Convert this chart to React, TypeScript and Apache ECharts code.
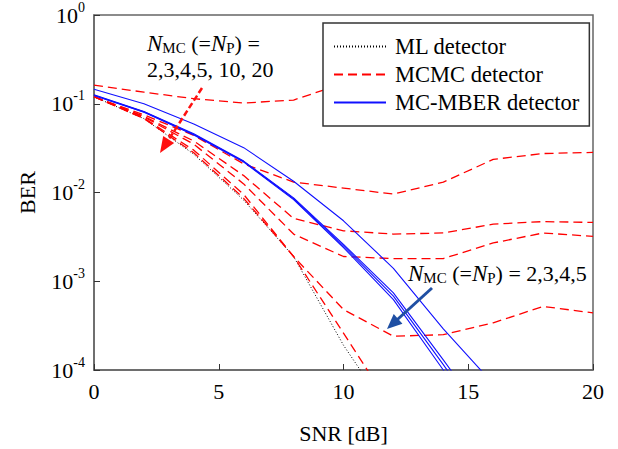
import React, { useEffect, useRef } from "react";
import * as echarts from "echarts";

const snr = [0, 2, 4, 6, 8, 10, 12, 14, 16, 18, 20];

const mlBer = [0.12, 0.068, 0.027, 0.0082, 0.0019, 0.00019, 0.000028];

const mcmcN2 = [0.162, 0.135, 0.114, 0.102, 0.11, 0.17, 0.2, 0.21, 0.2, 0.21, 0.2];
const mcmcN3 = [0.12, 0.075, 0.044, 0.021, 0.0131, 0.0112, 0.0096, 0.0131, 0.0236, 0.0275, 0.0283];
const mcmcN4 = [0.12, 0.072, 0.038, 0.0155, 0.0051, 0.0037, 0.0034, 0.0035, 0.0044, 0.0047, 0.0046];
const mcmcN5 = [0.12, 0.071, 0.035, 0.0125, 0.0034, 0.0019, 0.0018, 0.0018, 0.0027, 0.0035, 0.0032];
const mcmcN10 = [0.12, 0.069, 0.03, 0.0095, 0.0019, 0.00048, 0.00024, 0.00025, 0.00034, 0.00052, 0.00044];
const mcmcN20 = [0.12, 0.068, 0.028, 0.0086, 0.0019, 0.00026, 0.000035];

const mberN2 = [0.146, 0.1, 0.059, 0.032, 0.0134, 0.0048, 0.0014, 0.00029, 0.00007];
const mberN3 = [0.126, 0.082, 0.046, 0.0226, 0.0087, 0.0026, 0.00074, 0.00013, 0.000022];
const mberN4 = [0.125, 0.081, 0.045, 0.0223, 0.0085, 0.0025, 0.00068, 0.000115, 0.000018];
const mberN5 = [0.124, 0.08, 0.0445, 0.022, 0.0083, 0.0024, 0.00062, 0.0001, 0.000015];

const FONT = "Liberation Serif";

function pairs(vals: number[]) {
  return vals.map((v, i) => [snr[i], v]);
}

function arrow(x1: number, y1: number, x2: number, y2: number, color: string, width: number, dashed: boolean, headLen: number, headHalf: number) {
  const dx = x2 - x1;
  const dy = y2 - y1;
  const len = Math.sqrt(dx * dx + dy * dy);
  const ux = dx / len;
  const uy = dy / len;
  const bx = x2 - ux * headLen;
  const by = y2 - uy * headLen;
  const nx = -uy;
  const ny = ux;
  return [
    {
      type: "line",
      z: 100,
      shape: { x1, y1, x2: bx + ux * 2, y2: by + uy * 2 },
      style: { stroke: color, lineWidth: width, lineDash: dashed ? [6, 3] : null },
    },
    {
      type: "polygon",
      z: 100,
      shape: {
        points: [
          [x2, y2],
          [bx + nx * headHalf, by + ny * headHalf],
          [bx - nx * headHalf, by - ny * headHalf],
        ],
      },
      style: { fill: color },
    },
  ];
}

const annoRich = {
  i: { fontFamily: FONT, fontSize: 23, fontStyle: "italic", color: "#000", lineHeight: 24 },
  s: { fontFamily: FONT, fontSize: 15, color: "#000", verticalAlign: "bottom", lineHeight: 15 },
  n: { fontFamily: FONT, fontSize: 22, color: "#000", lineHeight: 24 },
};

export default function App() {
  const ref = useRef<HTMLDivElement>(null);
  useEffect(() => {
    if (!ref.current) return;
    const chart = echarts.init(ref.current, null, { renderer: "svg" });
    const red = "#ff0000";
    const blue = "#1010ff";
    const mcmcStyle = { color: red, width: 1.3, type: [9, 5] as any };
    const mberStyle = { color: blue, width: 1.1 };
    const mk = (name: string, vals: number[], ls: any, color: string) => ({
      name,
      type: "line",
      data: pairs(vals),
      showSymbol: false,
      symbol: "none",
      lineStyle: ls,
      itemStyle: { color },
      clip: true,
      z: 2,
    });
    const series: any[] = [
      mk("ML detector", mlBer, { color: "#000", width: 1, type: [1, 2] }, "#000"),
      mk("MCMC detector", mcmcN2, mcmcStyle, red),
      mk("MCMC detector", mcmcN3, mcmcStyle, red),
      mk("MCMC detector", mcmcN4, mcmcStyle, red),
      mk("MCMC detector", mcmcN5, mcmcStyle, red),
      mk("MCMC detector", mcmcN10, mcmcStyle, red),
      mk("MCMC detector", mcmcN20, mcmcStyle, red),
      mk("MC-MBER detector", mberN2, mberStyle, blue),
      mk("MC-MBER detector", mberN3, mberStyle, blue),
      mk("MC-MBER detector", mberN4, mberStyle, blue),
      mk("MC-MBER detector", mberN5, mberStyle, blue),
    ];
    const option: any = {
      animation: false,
      backgroundColor: "#fff",
      textStyle: { fontFamily: FONT },
      grid: {
        left: 94,
        right: 25,
        top: 12,
        bottom: 78,
        containLabel: false,
        show: true,
        borderColor: "#666",
        borderWidth: 1.5,
      },
      xAxis: {
        type: "value",
        min: 0,
        max: 20,
        interval: 5,
        name: "SNR [dB]",
        nameLocation: "middle",
        nameGap: 52,
        nameTextStyle: { fontFamily: FONT, fontSize: 22, color: "#000" },
        axisLine: { lineStyle: { color: "#666", width: 1.5 } },
        axisTick: { inside: true, length: 6, lineStyle: { color: "#333" } },
        axisLabel: { fontFamily: FONT, fontSize: 22, color: "#000", margin: 10 },
        splitLine: { show: false },
      },
      yAxis: {
        type: "log",
        logBase: 10,
        min: 0.0001,
        max: 1,
        name: "BER",
        nameLocation: "middle",
        nameRotate: 90,
        nameGap: 56,
        nameTextStyle: { fontFamily: FONT, fontSize: 22, color: "#000" },
        axisLine: { lineStyle: { color: "#666", width: 1.5 } },
        axisTick: { inside: true, length: 6, lineStyle: { color: "#333" } },
        axisLabel: {
          margin: 9,
          formatter: (v: number) => {
            const e = Math.round(Math.log10(v));
            return "{b|10}{s|" + e + "}";
          },
          rich: {
            b: { fontFamily: FONT, fontSize: 22, color: "#000", lineHeight: 30 },
            s: { fontFamily: FONT, fontSize: 14, color: "#000", verticalAlign: "top", lineHeight: 16 },
          },
        },
        splitLine: { show: false },
        minorTick: { show: false },
      },
      legend: {
        orient: "vertical",
        left: 323,
        top: 23,
        padding: [12, 10, 12, 10],
        itemGap: 5,
        itemWidth: 52,
        itemHeight: 14,
        backgroundColor: "#fff",
        borderColor: "#333",
        borderWidth: 1.5,
        borderRadius: 0,
        itemStyle: { opacity: 0 },
        data: ["ML detector", "MCMC detector", "MC-MBER detector"],
        textStyle: { fontFamily: FONT, fontSize: 22.5, color: "#000", lineHeight: 22, padding: [0, 0, 0, 4] },
        z: 10,
      },
      graphic: [
        {
          type: "text",
          left: 147,
          top: 32,
          z: 100,
          style: {
            text: "{i|N}{s|MC}{n| (=}{i|N}{s|P}{n|) =}",
            rich: annoRich,
          },
        },
        {
          type: "text",
          left: 147,
          top: 58,
          z: 100,
          style: {
            text: "2,3,4,5, 10, 20",
            fontFamily: FONT,
            fontSize: 22,
            fill: "#000",
          },
        },
        {
          type: "text",
          left: 408,
          top: 262,
          z: 100,
          style: {
            text: "{i|N}{s|MC}{n| (=}{i|N}{s|P}{n|) = 2,3,4,5}",
            rich: annoRich,
          },
        },
        ...arrow(202, 88, 160, 153, "#ff1010", 2.5, true, 16, 6.5),
        ...arrow(432, 288, 387, 329, "#1f4fa3", 3, false, 15, 6.5),
      ],
      series,
    };
    chart.setOption(option);
    return () => chart.dispose();
  }, []);
  return <div ref={ref} style={{ position: "absolute", left: 0, top: 0, width: 618, height: 449 }} />;
}
